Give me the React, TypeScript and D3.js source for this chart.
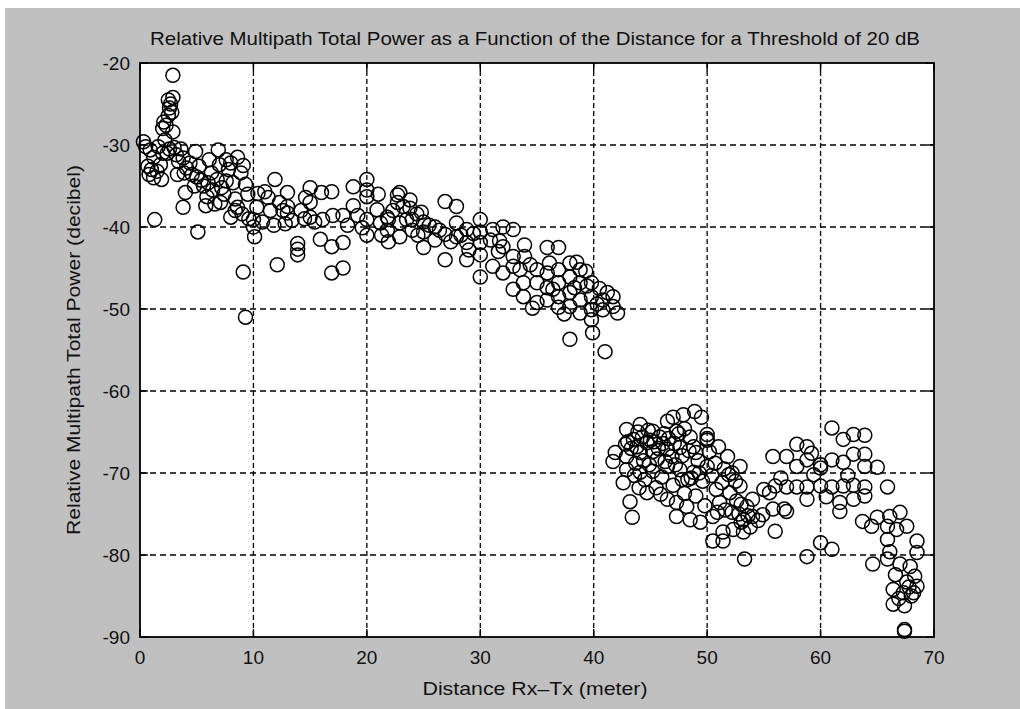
import React from "react";
import * as d3 from "d3";

const title = "Relative Multipath Total Power as a Function of the Distance for a Threshold of 20 dB";
const xLabel = "Distance Rx\u2013Tx (meter)";
const yLabel = "Relative Multipath Total Power (decibel)";
const xTicks = [0, 10, 20, 30, 40, 50, 60, 70];
const yTicks = [-20, -30, -40, -50, -60, -70, -80, -90];

// [distance (m), relative power (dB)]
const pts0to10: [number, number][] = [
  [0.3,-29.6],[0.5,-30.2],[0.9,-30.6],[1.2,-31.5],[1.6,-30.2],[2.2,-29.4],[2.0,-31.0],[0.7,-32.6],[1.0,-33.0],[0.8,-33.6],
  [1.2,-34.0],[1.9,-34.2],[1.5,-33.2],[1.3,-39.1],[2.1,-27.2],[2.0,-28.0],[2.3,-27.6],[2.9,-28.4],[2.5,-24.5],[2.7,-25.0],
  [2.9,-24.2],[2.6,-25.5],[2.8,-26.0],[2.5,-26.4],[2.9,-21.5],[2.4,-31.0],[3.0,-30.3],[3.2,-31.2],[3.6,-30.5],[3.4,-32.0],
  [3.8,-31.6],[4.1,-32.8],[3.9,-33.4],[4.4,-32.2],[4.6,-33.6],[4.0,-35.8],[3.8,-37.6],[4.9,-30.8],[5.0,-33.9],[5.1,-40.6],
  [5.4,-34.3],[5.6,-35.0],[5.9,-36.3],[6.0,-34.6],[6.3,-33.4],[6.4,-35.5],[6.9,-30.6],[7.0,-32.4],[7.2,-35.2],[7.4,-36.0],
  [7.1,-37.0],[7.6,-31.8],[7.8,-33.0],[8.0,-32.2],[8.2,-34.6],[8.4,-36.6],[8.6,-37.6],[8.4,-38.0],[8.9,-33.4],[9.1,-32.5],
  [9.0,-38.4],[9.3,-34.8],[9.1,-45.5],[9.3,-51.0],[8.0,-38.8],[9.6,-39.0],[6.6,-37.2],[5.8,-37.4],
  [1.8,-32.4],[2.6,-30.5],[3.3,-33.6],[4.8,-35.0],[5.2,-32.6],[6.1,-31.8],[6.8,-34.2],[7.6,-34.4],[8.6,-31.5],[9.5,-36.0],
];

const pts10to20: [number, number][] = [
  [10.0,-39.1],[10.1,-41.2],[10.0,-40.0],[10.4,-35.9],[10.8,-39.4],[11.0,-35.7],[11.3,-36.4],[11.9,-34.2],[11.5,-38.0],[12.1,-44.6],
  [12.3,-37.0],[12.6,-38.0],[13.0,-35.8],[13.0,-37.5],[13.0,-38.3],[13.4,-39.2],[13.9,-42.0],[13.9,-42.7],[13.9,-43.4],[14.2,-38.0],
  [14.5,-39.0],[15.0,-35.2],[15.0,-37.0],[15.0,-38.8],[15.4,-39.4],[16.0,-35.8],[16.1,-39.1],[15.9,-41.5],[16.9,-35.7],[16.9,-42.4],
  [16.9,-45.6],[17.0,-38.6],[17.9,-38.6],[17.9,-41.9],[17.9,-45.0],[18.3,-39.8],[18.8,-35.1],[18.8,-37.4],[19.2,-38.6],[20.0,-34.2],
  [20.0,-35.5],[20.0,-36.3],[20.0,-39.1],[20.0,-41.0],[19.6,-40.1],[11.8,-39.8],[12.8,-39.6],[14.6,-36.4],[10.3,-37.6],
];

const pts20to30: [number, number][] = [
  [20.9,-37.9],[21.2,-39.5],[21.8,-38.8],[21.8,-40.4],[21.9,-41.8],[21.9,-39.1],[22.7,-36.1],[22.9,-35.8],[22.7,-37.0],[22.9,-39.5],
  [22.9,-41.2],[23.2,-37.5],[23.5,-39.1],[23.8,-36.7],[23.8,-37.7],[24.0,-39.1],[24.0,-40.4],[24.5,-41.0],[25.0,-39.4],[25.0,-40.6],
  [25.0,-42.5],[26.0,-40.0],[26.0,-41.6],[26.9,-40.9],[26.9,-44.0],[26.9,-36.9],[27.9,-37.5],[27.9,-39.5],[27.9,-41.2],[28.8,-40.3],
  [28.8,-41.9],[28.8,-44.0],[30.0,-39.1],[30.0,-40.6],[30.0,-41.9],[30.0,-43.4],[30.0,-46.1],[25.5,-39.8],[26.4,-40.4],[27.4,-41.8],
  [28.3,-41.0],[29.4,-40.8],[24.4,-38.4],[21.3,-41.0],[21.0,-36.0],[22.3,-38.0],[24.8,-38.2],[29.0,-42.8],
];

const pts30to42: [number, number][] = [
  [30.9,-41.6],[31.1,-40.3],[32.0,-40.0],[32.0,-42.4],[31.1,-44.8],[32.0,-45.6],[32.9,-40.3],[32.9,-43.6],[32.9,-44.8],[33.9,-42.2],
  [33.9,-43.6],[35.9,-42.5],[36.9,-42.5],[32.9,-47.6],[33.8,-46.8],[33.8,-48.5],[35.0,-45.2],[35.0,-46.8],[35.0,-49.2],[35.9,-45.6],
  [35.9,-47.4],[35.9,-48.9],[36.9,-45.2],[36.9,-46.8],[36.9,-48.5],[36.9,-49.8],[37.9,-44.4],[37.9,-46.1],[37.9,-48.0],[37.9,-49.7],
  [38.8,-45.2],[38.8,-46.8],[38.8,-48.9],[38.8,-50.5],[39.8,-46.8],[39.8,-48.5],[39.8,-50.1],[39.8,-51.3],[40.8,-48.9],[40.8,-50.1],
  [41.7,-48.5],[41.7,-49.7],[42.1,-50.5],[37.9,-53.7],[39.9,-52.9],[41.0,-55.2],[34.4,-44.6],[36.4,-47.6],[38.3,-47.4],[39.3,-45.4],
  [40.3,-49.4],[41.2,-48.0],[31.6,-43.0],[34.6,-49.9],[31.7,-41.7],[33.5,-45.2],[36.1,-44.4],[38.5,-44.3],[40.5,-47.5],[37.4,-50.6],
  [39.4,-47.2],
];

const pts42to54: [number, number][] = [
  [48.9,-62.5],[47.9,-62.9],[47.0,-63.2],[42.9,-64.7],[44.1,-64.1],[46.5,-63.7],[45.2,-64.9],[43.5,-65.9],[44.7,-66.3],[45.8,-65.6],
  [47.3,-64.9],[48.5,-65.6],[41.9,-67.5],[41.7,-68.6],[42.9,-68.0],[44.1,-67.5],[45.2,-67.4],[46.5,-67.1],[47.6,-66.9],[48.8,-66.8],
  [50.0,-65.3],[42.9,-69.6],[42.6,-71.2],[44.1,-69.9],[45.2,-69.8],[46.5,-69.2],[47.6,-69.6],[48.8,-69.9],[50.0,-69.2],[51.0,-66.8],
  [51.8,-68.0],[52.9,-69.2],[43.2,-73.5],[44.7,-72.4],[43.4,-75.4],[46.5,-73.2],[47.3,-73.6],[48.2,-74.1],[47.3,-75.3],[48.5,-75.7],
  [49.4,-76.0],[50.5,-75.3],[51.1,-73.6],[52.0,-72.4],[52.9,-71.6],[53.5,-74.1],[50.5,-78.3],[51.4,-77.2],[52.3,-76.9],[53.2,-75.7],
  [53.3,-80.5],[43.8,-66.8],[44.4,-68.5],[45.0,-66.0],[45.6,-68.3],[46.0,-70.5],[46.9,-68.0],[47.8,-67.9],[48.3,-70.8],[48.6,-70.6],
  [49.2,-68.5],[49.6,-71.0],[50.0,-66.0],[50.0,-65.8],[50.4,-70.3],[50.8,-72.0],[51.3,-71.2],[51.6,-74.5],[52.2,-74.8],[52.6,-73.4],
  [53.0,-76.0],[53.6,-75.2],[49.0,-72.8],[47.0,-71.5],[45.5,-71.8],[44.5,-70.8],[43.6,-70.3],[42.8,-66.5],[46.2,-65.2],[49.5,-63.2],
  [49.8,-74.0],[51.9,-70.2],[52.5,-71.0],[51.4,-78.3],[53.2,-77.2],[53.8,-76.6],
  [43.0,-66.2],[43.3,-67.0],[43.9,-65.0],[44.3,-65.6],[44.8,-64.8],[45.3,-66.2],[45.7,-67.0],[46.1,-66.4],[46.6,-65.8],[47.1,-66.4],
  [47.5,-65.2],[48.0,-64.6],[48.4,-67.3],[43.7,-68.8],[44.9,-69.0],[46.3,-68.6],[47.2,-69.0],[47.8,-70.8],[45.9,-72.6],[44.0,-71.8],
  [49.0,-67.5],[50.2,-67.4],[50.7,-68.8],[51.5,-69.5],[52.2,-70.0],[50.9,-74.8],[52.8,-75.0],[53.0,-73.8],[49.3,-70.0],[48.0,-72.5],
];

const pts54to70: [number, number][] = [
  [54.0,-73.2],[55.0,-72.0],[54.5,-75.8],[55.5,-72.4],[55.8,-68.0],[56.0,-71.6],[57.0,-68.0],[57.0,-71.7],[56.8,-74.4],[57.9,-66.5],
  [57.9,-69.2],[57.9,-71.7],[58.8,-66.8],[58.8,-68.4],[58.8,-71.7],[58.8,-73.2],[60.0,-69.0],[60.0,-71.6],[60.0,-69.4],[61.0,-64.5],
  [61.0,-68.4],[61.0,-71.7],[61.7,-73.6],[61.7,-74.7],[62.0,-65.9],[62.0,-68.7],[62.0,-71.6],[62.9,-65.3],[62.9,-67.7],[62.9,-71.5],
  [62.9,-73.2],[63.9,-65.4],[63.9,-67.7],[63.9,-69.2],[63.9,-71.7],[63.9,-72.8],[65.0,-69.3],[65.9,-71.7],[55.8,-74.4],[58.8,-80.2],
  [60.0,-78.5],[61.0,-79.3],[56.0,-77.1],[54.9,-75.1],[54.0,-75.3],[57.0,-74.7],
  [63.7,-75.9],[65.0,-75.4],[66.1,-75.3],[67.0,-74.8],[65.9,-78.1],[65.9,-76.5],[66.7,-76.9],[67.6,-76.5],[68.5,-78.3],[66.1,-79.6],
  [64.6,-81.1],[65.9,-80.5],[67.0,-81.1],[67.9,-81.4],[68.5,-79.7],[66.4,-84.2],[67.6,-83.3],[68.5,-83.8],[67.3,-84.6],[66.4,-86.0],
  [68.2,-84.6],[67.4,-89.1],[67.4,-89.3],[67.8,-83.9],[68.0,-85.0],[66.9,-85.3],
  [56.5,-70.6],[59.4,-70.2],[60.5,-72.9],[62.4,-70.3],[59.2,-67.6],[64.5,-76.5],[66.6,-82.4],[67.4,-86.2],[68.3,-82.6],
];

const allPoints = [...pts0to10, ...pts10to20, ...pts20to30, ...pts30to42, ...pts42to54, ...pts54to70];

const W = 1020, H = 709;
const L = 140, R = 934, T = 63, B = 637;
const FONT = "'Liberation Sans', Arial, Helvetica, sans-serif";

export default function App() {
  const x = d3.scaleLinear().domain([0, 70]).range([L, R]);
  const y = d3.scaleLinear().domain([-90, -20]).range([B, T]);
  const tick = 8;
  return (
    <svg width={W} height={H} style={{ position: "absolute", left: 0, top: 0 }}>
      <rect x={0} y={0} width={W} height={H} fill="#ffffff" />
      <rect x={5} y={8} width={W - 5} height={H - 8} fill="#c0c0c0" />
      <rect x={L} y={T} width={R - L} height={B - T} fill="#ffffff" />
      {xTicks.filter((t) => t > 0 && t < 70).map((t) => (
        <line key={"gx" + t} x1={x(t)} x2={x(t)} y1={T} y2={B} stroke="#000" strokeWidth={1.3} strokeDasharray="5,3" />
      ))}
      {yTicks.filter((t) => t > -90 && t < -20).map((t) => (
        <line key={"gy" + t} x1={L} x2={R} y1={y(t)} y2={y(t)} stroke="#000" strokeWidth={1.3} strokeDasharray="6,4" />
      ))}
      {xTicks.map((t) => (
        <g key={"tx" + t}>
          <line x1={x(t)} x2={x(t)} y1={B} y2={B - tick} stroke="#000" strokeWidth={1.4} />
          <line x1={x(t)} x2={x(t)} y1={T} y2={T + tick} stroke="#000" strokeWidth={1.4} />
        </g>
      ))}
      {yTicks.map((t) => (
        <g key={"ty" + t}>
          <line x1={L} x2={L + tick} y1={y(t)} y2={y(t)} stroke="#000" strokeWidth={1.4} />
          <line x1={R} x2={R - tick} y1={y(t)} y2={y(t)} stroke="#000" strokeWidth={1.4} />
        </g>
      ))}
      <g fill="none" stroke="#000" strokeWidth={1.5}>
        {allPoints.map((p, i) => (
          <circle key={i} cx={x(p[0])} cy={y(p[1])} r={7} />
        ))}
      </g>
      <rect x={L} y={T} width={R - L} height={B - T} fill="none" stroke="#000" strokeWidth={1.8} />
      {xTicks.map((t) => (
        <text key={"lx" + t} x={x(t)} y={B + 27} textAnchor="middle" fontFamily={FONT} fontSize={19} fill="#111">
          {t}
        </text>
      ))}
      {yTicks.map((t) => (
        <text key={"ly" + t} x={L - 10} y={y(t) + 7} textAnchor="end" fontFamily={FONT} fontSize={19} fill="#111">
          {t}
        </text>
      ))}
      <text x={535} y={45} textAnchor="middle" fontFamily={FONT} fontSize={18.5} fill="#111" textLength={770} lengthAdjust="spacingAndGlyphs">
        {title}
      </text>
      <text x={535} y={695} textAnchor="middle" fontFamily={FONT} fontSize={18.5} fill="#111" textLength={225} lengthAdjust="spacingAndGlyphs">
        {xLabel}
      </text>
      <text transform={`translate(80, ${(T + B) / 2}) rotate(-90)`} textAnchor="middle" fontFamily={FONT} fontSize={18.5} fill="#111" textLength={370} lengthAdjust="spacingAndGlyphs">
        {yLabel}
      </text>
    </svg>
  );
}
